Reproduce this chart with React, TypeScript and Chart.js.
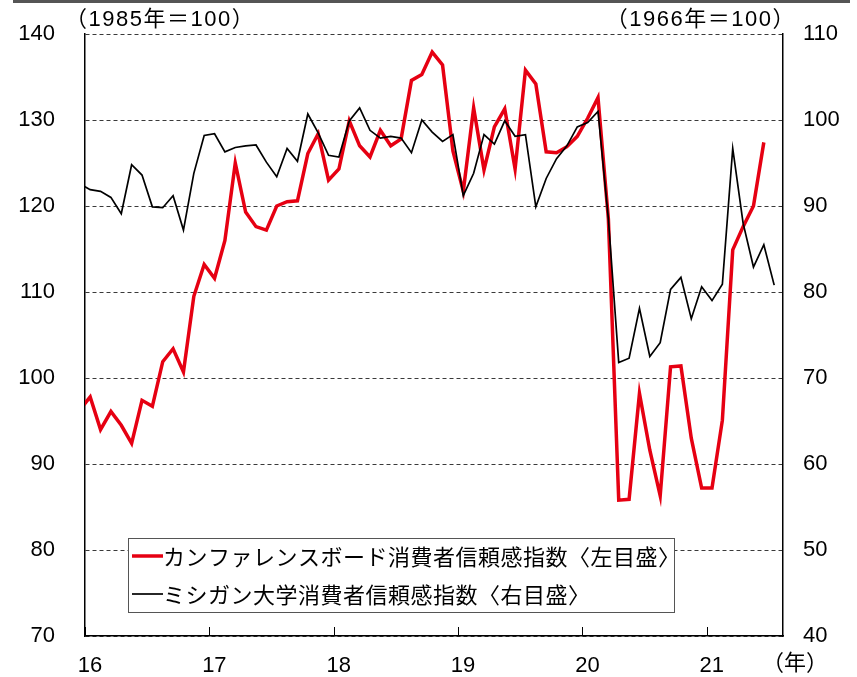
import React, { useEffect, useRef } from 'react';
import { Chart, registerables } from 'chart.js';

Chart.register(...registerables);

// Monthly categories (Dec 2015 – Jul 2021)
const months: string[] = [
  '2015-12',
  '2016-01', '2016-02', '2016-03', '2016-04', '2016-05', '2016-06', '2016-07', '2016-08', '2016-09', '2016-10', '2016-11', '2016-12',
  '2017-01', '2017-02', '2017-03', '2017-04', '2017-05', '2017-06', '2017-07', '2017-08', '2017-09', '2017-10', '2017-11', '2017-12',
  '2018-01', '2018-02', '2018-03', '2018-04', '2018-05', '2018-06', '2018-07', '2018-08', '2018-09', '2018-10', '2018-11', '2018-12',
  '2019-01', '2019-02', '2019-03', '2019-04', '2019-05', '2019-06', '2019-07', '2019-08', '2019-09', '2019-10', '2019-11', '2019-12',
  '2020-01', '2020-02', '2020-03', '2020-04', '2020-05', '2020-06', '2020-07', '2020-08', '2020-09', '2020-10', '2020-11', '2020-12',
  '2021-01', '2021-02', '2021-03', '2021-04', '2021-05', '2021-06', '2021-07',
];

// Conference Board consumer confidence (1985 = 100), left axis
const conferenceBoard: number[] = [
  96.3,
  97.8, 94.0, 96.1, 94.5, 92.4, 97.4, 96.7, 101.9, 103.4, 100.7, 109.5, 113.2,
  111.6, 116.0, 125.0, 119.3, 117.6, 117.2, 120.0, 120.5, 120.6, 126.1, 128.4, 123.0,
  124.3, 129.9, 127.0, 125.7, 128.8, 127.0, 127.8, 134.6, 135.3, 137.9, 136.4, 126.4,
  121.7, 131.4, 124.2, 129.2, 131.3, 124.3, 135.8, 134.2, 126.3, 126.2, 126.9, 128.1,
  130.2, 132.6, 118.5, 85.8, 85.9, 98.2, 91.6, 86.3, 101.3, 101.4, 93.0, 87.2,
  87.2, 95.1, 114.9, 117.6, 120.0, 127.4,
];

// University of Michigan consumer sentiment (1966 = 100), right axis
const michigan: number[] = [
  92.6,
  91.9, 91.7, 91.0, 89.1, 94.8, 93.6, 89.9, 89.8, 91.2, 87.2, 93.8, 98.2,
  98.4, 96.3, 96.8, 97.0, 97.1, 95.1, 93.4, 96.7, 95.2, 100.7, 98.5, 95.9,
  95.7, 99.9, 101.4, 98.8, 97.9, 98.1, 97.9, 96.2, 100.0, 98.6, 97.5, 98.3,
  91.2, 93.8, 98.3, 97.2, 99.9, 98.1, 98.3, 89.9, 93.2, 95.5, 97.0, 99.2,
  99.7, 101.0, 88.5, 71.8, 72.3, 78.1, 72.5, 74.1, 80.3, 81.7, 76.9, 80.6,
  79.0, 80.9, 96.7, 88.0, 82.9, 85.5, 80.8,
];

const seriesLabels = [
  'カンファレンスボード消費者信頼感指数〈左目盛〉',
  'ミシガン大学消費者信頼感指数〈右目盛〉',
];

const xTickYears = [2016, 2017, 2018, 2019, 2020, 2021];
const xTickLabels = ['16', '17', '18', '19', '20', '21'];
const leftAxisNote = '（1985年＝100）';
const rightAxisNote = '（1966年＝100）';
const xAxisUnit = '（年）';

const FONT = '"Liberation Sans", Arial, "Noto Sans CJK JP", sans-serif';
const JP_FONT = '"Noto Sans CJK JP", "Liberation Sans", sans-serif';

// month label -> month index relative to Jan 2016, plotted at mid-month
const monthIndex = (m: string) => {
  const [y, mo] = m.split('-').map(Number);
  return (y - 2016) * 12 + (mo - 1);
};

const toPoints = (vals: number[]) =>
  vals.map((v, i) => ({ x: monthIndex(months[i]), y: v }));

const decorPlugin = {
  id: 'decor',
  afterDraw(chart: any) {
    const { ctx, chartArea, scales } = chart;
    const xs = scales.x;
    ctx.save();

    // top rule
    ctx.fillStyle = '#555';
    ctx.fillRect(13, 0, 837, 3);

    // inward tick marks on x axis
    ctx.strokeStyle = '#000';
    ctx.lineWidth = 1;
    xs.ticks.forEach((t: any) => {
      const px = Math.round(xs.getPixelForValue(t.value)) + 0.5;
      ctx.beginPath();
      ctx.moveTo(px, chartArea.bottom);
      ctx.lineTo(px, chartArea.bottom - 9);
      ctx.stroke();
    });

    // axis notes
    ctx.fillStyle = '#000';
    ctx.font = `22px ${FONT}`;
    (ctx as any).letterSpacing = '1.5px';
    ctx.textBaseline = 'middle';
    ctx.textAlign = 'left';
    ctx.fillText(leftAxisNote, chartArea.left - 20, 20);
    ctx.textAlign = 'right';
    ctx.fillText(rightAxisNote, chartArea.right + 13, 20);
    (ctx as any).letterSpacing = '0px';
    ctx.textAlign = 'center';
    ctx.fillText(xAxisUnit, chartArea.right + 12, 664);

    // legend box
    const bx = 128, by = 538, bw = 546, bh = 74;
    ctx.fillStyle = '#fff';
    ctx.fillRect(bx, by, bw, bh);
    ctx.strokeStyle = '#555';
    ctx.lineWidth = 1;
    ctx.strokeRect(bx + 0.5, by + 0.5, bw, bh);

    const rows = [556, 594];
    chart.data.datasets.forEach((ds: any, i: number) => {
      const y = rows[i];
      ctx.strokeStyle = ds.borderColor;
      ctx.lineWidth = ds.borderWidth;
      ctx.beginPath();
      ctx.moveTo(132, y);
      ctx.lineTo(163, y);
      ctx.stroke();
      ctx.fillStyle = '#000';
      ctx.font = `22px ${JP_FONT}`;
      (ctx as any).letterSpacing = '0.5px';
      ctx.textAlign = 'left';
      ctx.textBaseline = 'middle';
      ctx.fillText(ds.label, 163, y + 1);
      (ctx as any).letterSpacing = '0px';
    });

    ctx.restore();
  },
};

export default function App() {
  const ref = useRef<HTMLCanvasElement | null>(null);

  useEffect(() => {
    document.body.style.margin = '0';
    if (!ref.current) return;
    const chart = new Chart(ref.current, {
      type: 'line',
      data: {
        datasets: [
          {
            label: seriesLabels[0],
            data: toPoints(conferenceBoard),
            borderColor: '#e60012',
            borderWidth: 3.5,
            pointRadius: 0,
            tension: 0,
            yAxisID: 'y',
            order: 1,
          },
          {
            label: seriesLabels[1],
            data: toPoints(michigan),
            borderColor: '#000',
            borderWidth: 1.7,
            pointRadius: 0,
            tension: 0,
            yAxisID: 'y2',
            order: 0,
          },
        ],
      },
      options: {
        responsive: false,
        animation: false,
        devicePixelRatio: 1,
        layout: { padding: { top: 34, left: 0, right: 0, bottom: 0 } },
        plugins: {
          legend: { display: false },
          tooltip: { enabled: false },
        },
        scales: {
          x: {
            type: 'linear',
            min: -0.5,
            max: 66.85,
            grid: { display: false, drawTicks: false },
            border: { display: true, color: '#000', width: 1.5 },
            ticks: {
              autoSkip: false,
              maxRotation: 0,
              padding: 17,
              labelOffset: 5,
              color: '#000',
              font: { family: FONT, size: 22 },
              callback: (v: any) => {
                const idx = xTickYears.findIndex((y) => (y - 2016) * 12 - 0.5 === v);
                return idx >= 0 ? xTickLabels[idx] : '';
              },
            },
            afterBuildTicks: (s: any) => {
              s.ticks = xTickYears.map((y) => ({ value: (y - 2016) * 12 - 0.5 }));
            },
            afterFit: (s: any) => {
              s.height = 41;
            },
          },
          y: {
            position: 'left',
            min: 70,
            max: 140,
            ticks: {
              stepSize: 10,
              padding: 0,
              color: '#000',
              font: { family: FONT, size: 22 },
            },
            grid: {
              color: '#3a3a3a',
              lineWidth: 1,
              drawTicks: true,
              tickLength: 30,
              tickColor: 'rgba(0,0,0,0)',
            },
            border: { display: true, color: '#000', width: 1.5, dash: [4, 3] },
            afterFit: (s: any) => {
              s.width = 85;
            },
          },
          y2: {
            position: 'right',
            min: 40,
            max: 110,
            ticks: {
              stepSize: 10,
              padding: 0,
              color: '#000',
              font: { family: FONT, size: 22 },
            },
            grid: { display: false, drawTicks: true, tickLength: 20, tickColor: 'rgba(0,0,0,0)' },
            border: { display: true, color: '#000', width: 1.5 },
            afterFit: (s: any) => {
              s.width = 74;
            },
          },
        },
      },
      plugins: [decorPlugin],
    } as any);
    return () => chart.destroy();
  }, []);

  return (
    <div style={{ width: 857, height: 677, background: '#fff' }}>
      <canvas ref={ref} width={857} height={677} style={{ width: 857, height: 677, display: 'block' }} />
    </div>
  );
}
